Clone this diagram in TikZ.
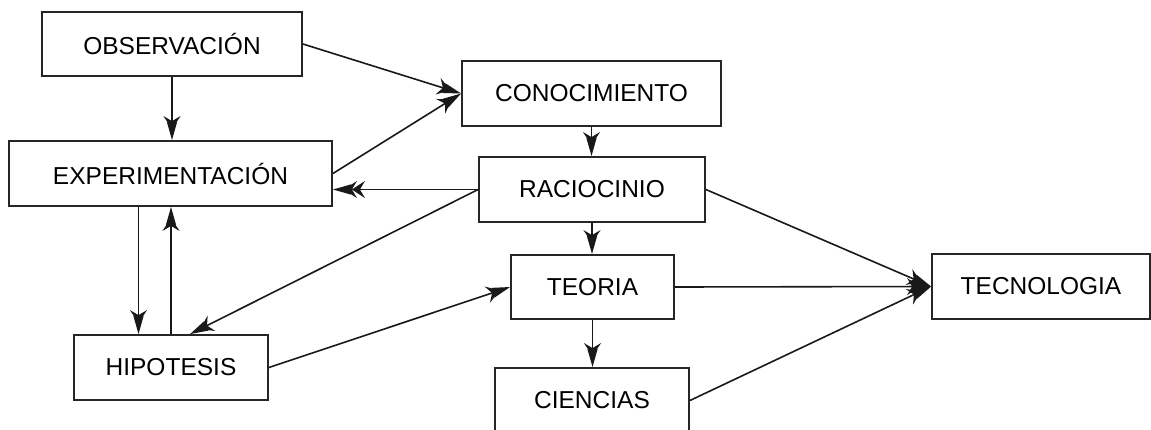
\documentclass[tikz,border=0pt]{standalone}
\usepackage{fontspec}
\setmainfont{Liberation Sans}
\usetikzlibrary{arrows.meta}
\begin{document}
\begin{tikzpicture}[x=1pt,y=-1pt,
  box/.style={draw=black!85,line width=1.8pt,fill=white,inner sep=0pt,
    font=\fontsize{24.5}{29}\selectfont},
  arr/.style={line width=1.6pt,draw=black!90,
    -{Stealth[length=13pt,width=17pt,inset=5pt,sep=-7pt]Stealth[length=18pt,width=10pt,inset=2pt]}},
  arrlong/.style={line width=1.6pt,draw=black!90,
    -{Stealth[length=13pt,width=17pt,inset=5pt,sep=-5pt]Stealth[length=13pt,width=17pt,inset=5pt,sep=-7pt]Stealth[length=18pt,width=10pt,inset=2pt]}}]
\fill[white] (0,0) rectangle (1151,429);
\useasboundingbox (0,0) rectangle (1151,429);
\node[box,minimum width=260pt,minimum height=64pt] (obs) at (172,44) {OBSERVACIÓN};
\node[box,minimum width=323pt,minimum height=65pt] (exp) at (170.5,173.5) {EXPERIMENTACIÓN};
\node[box,minimum width=259pt,minimum height=65pt] (con) at (591.5,93.5) {CONOCIMIENTO};
\node[box,minimum width=226pt,minimum height=65pt] (rac) at (592,189.5) {RACIOCINIO};
\node[box,minimum width=163pt,minimum height=64pt] (teo) at (592.5,287) {TEORIA};
\node[box,minimum width=194pt,minimum height=65pt] (hip) at (171,367.5) {HIPOTESIS};
\node[box,minimum width=194pt,minimum height=65pt] (cie) at (592,400.5) {CIENCIAS};
\node[box,minimum width=218pt,minimum height=65pt] (tec) at (1041,286.5) {TECNOLOGIA};

\draw[arr] (obs.east) -- (con.west);
\draw[arr] (exp.east) -- (con.west);
\draw[arr] (obs.south) -- (obs.south |- exp.north);
\draw[arr] (con.south) -- (con.south |- rac.north);
\draw[arrlong] (rac.west) -- (rac.west -| exp.east);
\draw[arr] (rac.west) -- ([xshift=19pt]hip.north);
\draw[arr] ([xshift=-32pt]exp.south) -- ([xshift=-32pt]exp.south |- hip.north);
\draw[arr] (hip.north) -- (hip.north |- exp.south);
\draw[arr] (rac.south) -- (rac.south |- teo.north);
\draw[arr] (teo.south) -- (teo.south |- cie.north);
\draw[arr] (hip.east) -- (teo.west);
\draw[arr] (rac.east) -- (tec.west);
\draw[arr] (teo.east) -- (tec.west);
\draw[arr] (cie.east) -- (tec.west);
\end{tikzpicture}
\end{document}
